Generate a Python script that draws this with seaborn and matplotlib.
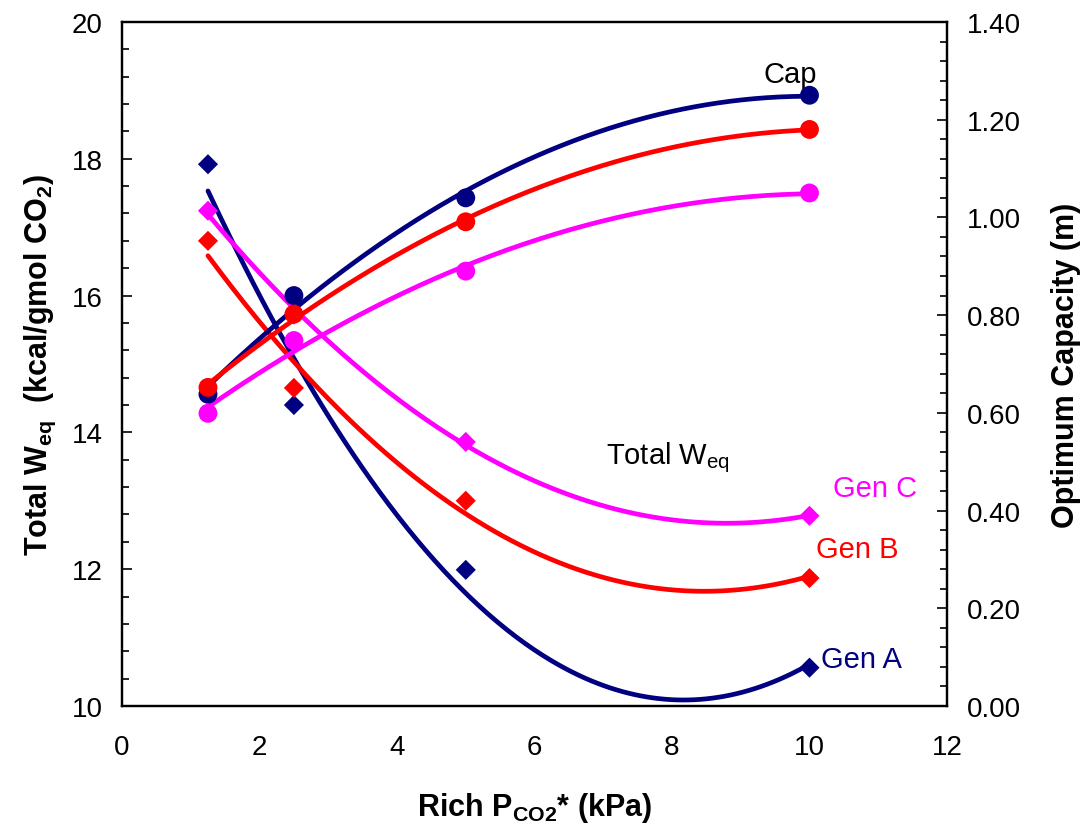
import numpy as np
import pandas as pd
import seaborn as sns
import matplotlib.pyplot as plt
from matplotlib.ticker import MultipleLocator, FormatStrFormatter

# Rich loading conditions (kPa)
pressure = [1.25, 2.5, 5.0, 10.0]

# Total equivalent work (kcal/gmol CO2)
weq_gen_a = [17.92, 14.40, 11.99, 10.56]
weq_gen_b = [16.80, 14.65, 13.00, 11.87]
weq_gen_c = [17.24, 15.72, 13.86, 12.78]

# Optimum capacity (m)
cap_gen_a = [0.638, 0.840, 1.040, 1.250]
cap_gen_b = [0.652, 0.802, 0.991, 1.180]
cap_gen_c = [0.599, 0.748, 0.890, 1.050]

series_names = ["Gen A", "Gen B", "Gen C"]
colors = {"Gen A": "#000080", "Gen B": "#FF0000", "Gen C": "#FF00FF"}

weq = pd.DataFrame({
    "P": pressure * 3,
    "W": weq_gen_a + weq_gen_b + weq_gen_c,
    "Gen": sum([[g] * 4 for g in series_names], []),
})
cap = pd.DataFrame({
    "P": pressure * 3,
    "C": cap_gen_a + cap_gen_b + cap_gen_c,
    "Gen": sum([[g] * 4 for g in series_names], []),
})

sns.set_theme(style="white")
plt.rcParams["font.family"] = ["Liberation Sans", "DejaVu Sans"]
plt.rcParams["mathtext.fontset"] = "custom"
plt.rcParams["mathtext.rm"] = "Liberation Sans"
plt.rcParams["mathtext.bf"] = "Liberation Sans:bold"
plt.rcParams["mathtext.it"] = "Liberation Sans:italic"
plt.rcParams["text.color"] = "black"
plt.rcParams["axes.labelcolor"] = "black"

fig = plt.figure(figsize=(10.82, 8.29), dpi=100)
ax = fig.add_axes([0.1128, 0.1472, 0.7624, 0.8251])
ax2 = ax.twinx()


def trend(x, y, n=200):
    coef = np.polyfit(x, y, 2)
    xs = np.linspace(min(x), max(x), n)
    return xs, np.polyval(coef, xs)


# Quadratic trendlines and markers for total work (left axis)
for g in series_names:
    d = weq[weq.Gen == g]
    xs, ys = trend(d.P.values, d.W.values)
    sns.lineplot(x=xs, y=ys, ax=ax, color=colors[g], lw=3.4, zorder=2,
                 solid_capstyle="round")
    sns.scatterplot(data=d, x="P", y="W", ax=ax, color=colors[g], marker="D",
                    s=105, edgecolor="none", zorder=3)

# Quadratic trendlines and markers for capacity (right axis)
for g in series_names:
    d = cap[cap.Gen == g]
    xs, ys = trend(d.P.values, d.C.values)
    sns.lineplot(x=xs, y=ys, ax=ax2, color=colors[g], lw=3.4, zorder=2,
                 solid_capstyle="round")
    sns.scatterplot(data=d, x="P", y="C", ax=ax2, color=colors[g], marker="o",
                    s=185, edgecolor="none", zorder=3)

ax.set_xlim(0, 12)
ax.set_ylim(10, 20)
ax2.set_ylim(0, 1.4)

ax.xaxis.set_major_locator(MultipleLocator(2))
ax.xaxis.set_minor_locator(MultipleLocator(0.4))
ax.yaxis.set_major_locator(MultipleLocator(2))
ax.yaxis.set_minor_locator(MultipleLocator(0.4))
ax2.yaxis.set_major_locator(MultipleLocator(0.2))
ax2.yaxis.set_minor_locator(MultipleLocator(0.04))
ax2.yaxis.set_major_formatter(FormatStrFormatter("%.2f"))

for a in (ax, ax2):
    for s in a.spines.values():
        s.set_color("black")
        s.set_linewidth(1.6)
ax.tick_params(axis="both", which="both", direction="in", colors="black",
               labelsize=20, width=1.2)
ax.tick_params(which="major", length=7)
ax.tick_params(which="minor", length=5)
ax.tick_params(axis="y", pad=14)
ax.tick_params(axis="x", pad=20)
ax2.tick_params(axis="y", which="both", direction="in", colors="black",
                labelsize=20, pad=14, width=1.2)
ax2.tick_params(which="major", length=7)
ax2.tick_params(which="minor", length=5)

ax.set_xlabel(r"Rich P$_{\mathbf{CO2}}$* (kPa)", fontsize=22, fontweight="bold",
              labelpad=22)
ax.set_ylabel(r"Total W$_{\mathbf{eq}}$  (kcal/gmol CO$_{\mathbf{2}}$)",
              fontsize=22, fontweight="bold", labelpad=10)
ax2.set_ylabel("Optimum Capacity (m)", fontsize=22, fontweight="bold",
               labelpad=22)

ax.text(9.72, 19.24, "Cap", fontsize=21, color="black", ha="center", va="center")
ax.text(7.94, 13.65, r"Total W$_{\mathrm{eq}}$", fontsize=21, color="black",
        ha="center", va="center")
ax.text(10.95, 13.19, "Gen C", fontsize=21, color=colors["Gen C"], ha="center",
        va="center")
ax.text(10.70, 12.30, "Gen B", fontsize=21, color=colors["Gen B"], ha="center",
        va="center")
ax.text(10.76, 10.69, "Gen A", fontsize=21, color=colors["Gen A"], ha="center",
        va="center")

fig.savefig("out.png", dpi=100)
